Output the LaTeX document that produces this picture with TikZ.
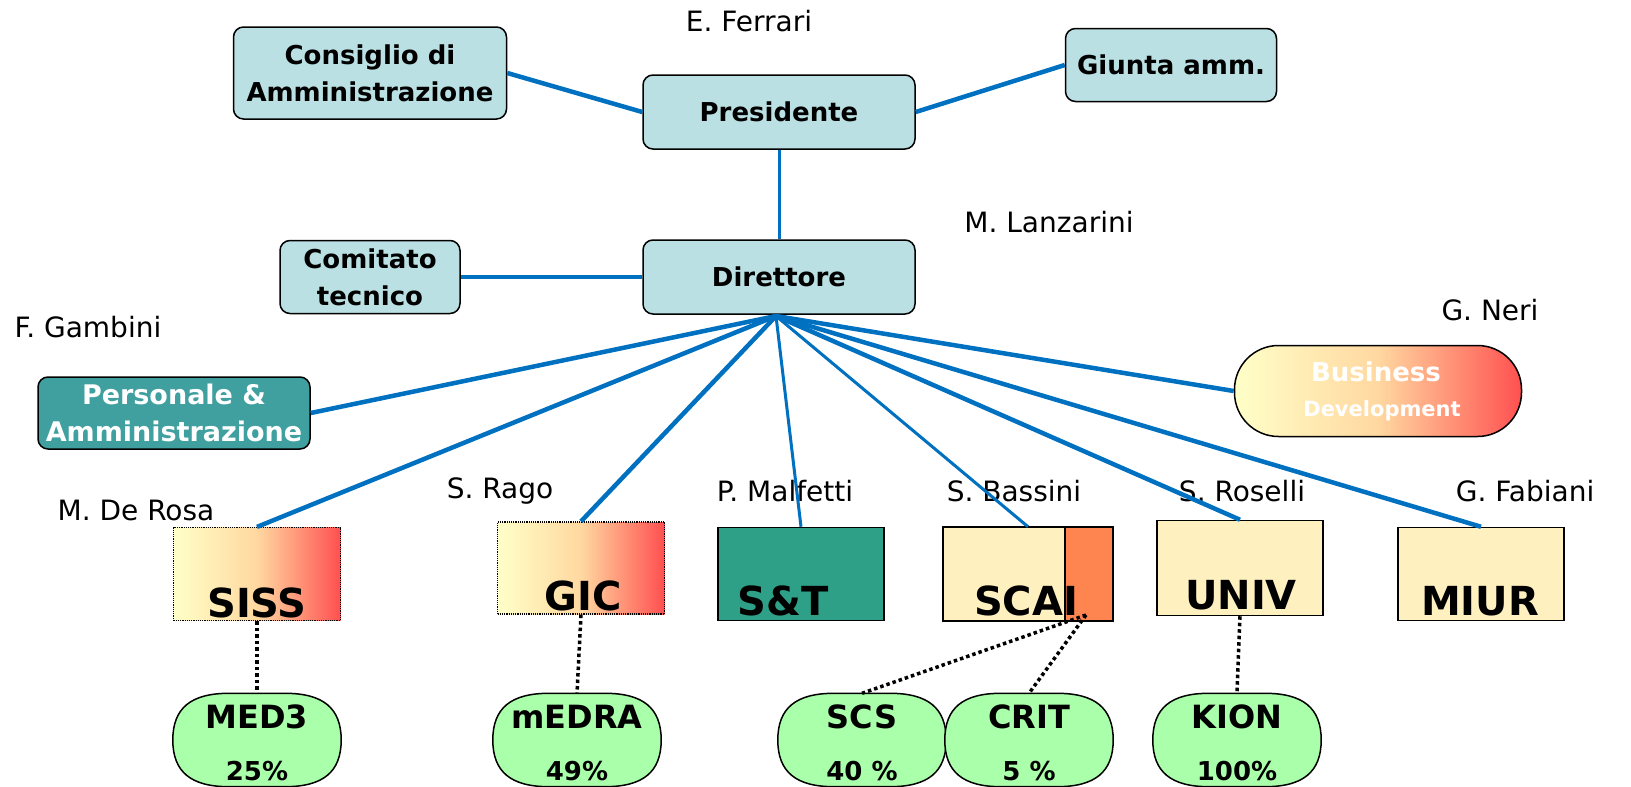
\documentclass[tikz,border=0pt]{standalone}
\usepackage{fontspec}
\setmainfont{DejaVu Sans}
\definecolor{lblue}{HTML}{BAE0E3}
\definecolor{pteal}{HTML}{40A0A0}
\definecolor{stgreen}{HTML}{2EA087}
\definecolor{scaiy}{HTML}{FFF0C0}
\definecolor{scaio}{HTML}{FF8550}
\definecolor{egreen}{HTML}{AAFFAA}
\definecolor{lnblue}{HTML}{0070C0}
\definecolor{gyel}{HTML}{FFFFC8}
\definecolor{gmid}{HTML}{FFD8A0}
\definecolor{gred}{HTML}{FF5050}
\newcommand\ovalpath[1]{%
  \draw[draw=black, line width=1.5pt, fill=egreen]
    ([xshift=-28pt]#1.north) -- ([xshift=28pt]#1.north)
    .. controls ([xshift=66pt]#1.north) and ([yshift=32pt]#1.east) .. (#1.east)
    .. controls ([yshift=-32pt]#1.east) and ([xshift=66pt]#1.south) .. ([xshift=28pt]#1.south)
    -- ([xshift=-28pt]#1.south)
    .. controls ([xshift=-66pt]#1.south) and ([yshift=-32pt]#1.west) .. (#1.west)
    .. controls ([yshift=32pt]#1.west) and ([xshift=-66pt]#1.north) .. ([xshift=-28pt]#1.north) -- cycle;}
\begin{document}
\begin{tikzpicture}[x=1pt,y=-1pt,
  lbl/.style={font=\fontsize{26}{37}\selectfont\bfseries},
  nm/.style={font=\fontsize{28}{32}\selectfont, inner sep=0pt},
  topbox/.style={draw=black, line width=1.5pt, fill=lblue, rounded corners=10pt, align=center, inner sep=0pt, lbl},
  unitbox/.style={draw=black, line width=1.5pt, inner sep=0pt},
  gradbox/.style={draw=black, line width=1.2pt, densely dotted, inner sep=0pt, left color=gyel, right color=gred, middle color=gmid},
  big/.style={font=\fontsize{40}{44}\selectfont\bfseries, inner sep=0pt},
  oval/.style={minimum width=168pt, minimum height=93pt, inner sep=0pt},
  otop/.style={font=\fontsize{32}{36}\selectfont\bfseries, inner sep=0pt},
  obot/.style={font=\fontsize{26}{30}\selectfont\bfseries, inner sep=0pt},
  link/.style={draw=lnblue, line width=4.5pt},
  tlink/.style={draw=lnblue, line width=3pt},
  dlink/.style={draw=black, line width=3.5pt, dash pattern=on 3.5pt off 3pt}]
\useasboundingbox (0,0) rectangle (1631,787);

% top level
\node[topbox, minimum width=273pt, minimum height=92pt] (cons) at (370,73) {Consiglio di\\Amministrazione};
\node[topbox, minimum width=272pt, minimum height=74pt] (pres) at (779,112) {Presidente};
\node[topbox, minimum width=211pt, minimum height=73pt] (giunta) at (1171,65) {Giunta amm.};
\node[topbox, minimum width=180pt, minimum height=73pt] (comit) at (370,277) {Comitato\\tecnico};
\node[topbox, minimum width=272pt, minimum height=74pt] (dir) at (779,277) {Direttore};

\node[draw=black, line width=1.5pt, fill=pteal, rounded corners=10pt, minimum width=272pt, minimum height=72pt, align=center, inner sep=0pt, text=white, font=\fontsize{27}{37}\selectfont\bfseries] (pers) at (174,413) {Personale \&\\Amministrazione};

\node[draw=black, line width=1.5pt, rounded corners=44pt, minimum width=287pt, minimum height=91pt, inner sep=0pt, left color=gyel, right color=gred, middle color=gmid] (bd) at (1378,391) {};
\node[text=white, font=\fontsize{26}{28}\selectfont\bfseries, inner sep=0pt] (bdt1) at (1376,372) {Business};
\node[text=white, font=\fontsize{21}{24}\selectfont\bfseries, inner sep=0pt] (bdt2) at (1382,411) {Development};

% names
\node[nm] (nferrari) at (749,21) {E. Ferrari};
\node[nm] (nlanz) at (1049,222) {M. Lanzarini};
\node[nm] (ngamb) at (88,327) {F. Gambini};
\node[nm] (nneri) at (1490,310) {G. Neri};
\node[nm] (nderosa) at (136,510) {M. De Rosa};
\node[nm] (nrago) at (500,491) {S. Rago};
\node[nm] (nmalf) at (785,491) {P. Malfetti};
\node[nm] (nbass) at (1014,491) {S. Bassini};
\node[nm] (nros) at (1242,491) {S. Roselli};
\node[nm] (nfab) at (1525,491) {G. Fabiani};

% units
\node[gradbox, minimum width=167pt, minimum height=93pt] (siss) at (257,574) {};
\node[big] (sisst) at (257,603) {SISS};
\node[gradbox, minimum width=167pt, minimum height=92pt] (gic) at (581,568) {};
\node[big] (gict) at (583,596) {GIC};
\node[unitbox, fill=stgreen, minimum width=166pt, minimum height=93pt] (st) at (801,574) {};
\node[big] (stt) at (783,601) {S\&T};
\node[unitbox, fill=scaiy, minimum width=169pt, minimum height=93pt] (scai) at (1028,574) {};
\node[draw=black, line width=1.2pt, fill=scaio, minimum width=48pt, minimum height=93pt, inner sep=0pt] (scaio) at (1089,574) {};
\draw[black, line width=1.5pt] (scai.north west) rectangle (scai.south east);
\node[big] (scait) at (1026,601) {SCAI};
\node[unitbox, fill=scaiy, minimum width=166pt, minimum height=95pt] (univ) at (1240,568) {};
\node[big] (univt) at (1241,595) {UNIV};
\node[unitbox, fill=scaiy, minimum width=166pt, minimum height=93pt] (miur) at (1481,574) {};
\node[big] (miurt) at (1480,601) {MIUR};

% participations
\node[oval] (med3) at (257,740) {};
\node[oval] (medra) at (577,740) {};
\node[oval] (scs) at (862,740) {};
\node[oval] (crit) at (1029,740) {};
\node[oval] (kion) at (1237,740) {};
\ovalpath{med3}
\ovalpath{medra}
\ovalpath{scs}
\ovalpath{crit}
\ovalpath{kion}
\node[otop] (med3a) at (257,717) {MED3};
\node[obot] (med3b) at (257,771) {25\%};
\node[otop] (medraa) at (577,717) {mEDRA};
\node[obot] (medrab) at (577,771) {49\%};
\node[otop] (scsa) at (862,717) {SCS};
\node[obot] (scsb) at (862,771) {40 \%};
\node[otop] (crita) at (1029,717) {CRIT};
\node[obot] (critb) at (1029,771) {5 \%};
\node[otop] (kiona) at (1237,717) {KION};
\node[obot] (kionb) at (1237,771) {100\%};

% connectors
\draw[link] (cons.east) -- (pres.west);
\draw[link] (pres.east) -- (giunta.west);
\draw[tlink] (pres.south) -- (dir.north);
\draw[link] (comit.east) -- (dir.west);
\coordinate (hub) at (776,316);
\draw[link] (hub) -- (pers.east);
\draw[link] (hub) -- (siss.north);
\draw[link] (hub) -- (gic.north);
\draw[tlink] (hub) -- (st.north);
\draw[tlink] (hub) -- (scai.north);
\draw[link] (hub) -- (univ.north);
\draw[link] (hub) -- (miur.north);
\draw[link] (hub) -- (bd.west);

\coordinate (scaidot) at (1086,615);
\draw[dlink] (siss.south) -- (med3.north);
\draw[dlink] (gic.south) -- (medra.north);
\draw[dlink] (scaidot) -- (scs.north);
\draw[dlink] (scaidot) -- (crit.north);
\draw[dlink] (univ.south) -- (kion.north);
\end{tikzpicture}
\end{document}
